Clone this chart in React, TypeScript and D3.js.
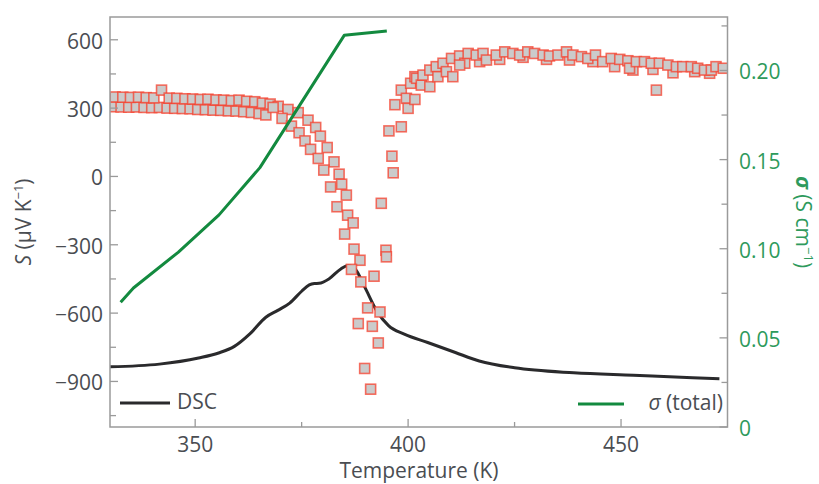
import React from "react";
import * as d3 from "d3";

// ---------- data ----------
const xTicksMajor = [350, 400, 450];
const xTicksMinor = [375, 425];
const sTicksMajor = [-900, -600, -300, 0, 300, 600];
const sTicksMinor = [-1050, -750, -450, -150, 150, 450];
const sigTicksMajor = [0, 0.05, 0.1, 0.15, 0.2];
const sigTicksMinor = [0.025, 0.075, 0.125, 0.175, 0.225];

// conductivity sigma (total), S cm^-1
const sigmaT = [332.5, 335.5, 346, 355.6, 365.2, 385, 395];
const sigmaV = [0.070, 0.078, 0.098, 0.119, 0.1455, 0.2197, 0.2222];

// DSC trace (arbitrary units, plotted on S axis)
const dscT = [330, 341.6, 350.8, 355.5, 359.2, 362.9, 366.6, 369.4, 372.2, 375.0, 376.8, 378.0, 379.1, 381.4, 384.2, 385.9, 387.5, 389.8, 392.6, 395.4, 399.1, 404.6, 411.1, 416.7, 425.0, 438.9, 452.9, 466.8, 473.1];
const dscV = [-836, -824, -797, -775, -746, -690, -618, -588, -556, -504, -476, -470, -469, -450, -406, -391, -405, -485, -589, -655, -692, -729, -773, -810, -840, -862, -873, -884, -888];

// Seebeck coefficient, low-T plateau (upper row)
const plateauUpper: [number, number][] = [
  [331.2, 349], [333.0, 348], [334.8, 347], [336.7, 348], [338.5, 346], [340.3, 345], [342.1, 379],
  [343.9, 344], [345.7, 343], [347.6, 341], [349.4, 340], [351.2, 338], [353.0, 339], [354.9, 336],
  [356.7, 335], [358.5, 333], [360.3, 335], [362.1, 330], [364.0, 328], [365.8, 322], [367.6, 318], [369.5, 308],
];
// low-T plateau (lower row)
const plateauLower: [number, number][] = [
  [330.8, 306], [332.6, 305], [334.4, 304], [336.2, 305], [338.0, 303], [339.8, 302], [341.6, 303],
  [343.4, 300], [345.2, 299], [347.0, 298], [348.8, 297], [350.6, 294], [352.4, 293], [354.2, 291],
  [356.0, 290], [357.8, 288], [359.6, 287], [361.4, 284], [363.2, 281], [365.0, 276], [366.6, 270],
];
// transition through the phase change
const transition: [number, number][] = [
  [371.8, 294], [374.2, 280], [376.5, 247], [378.3, 215], [379.4, 177], [381.0, 127], [382.6, 64],
  [383.8, 10], [384.4, -34], [385.5, -82], [385.8, -170], [387.1, -204], [387.3, -319], [388.7, -368],
  [388.9, -463], [390.5, -577], [391.6, -658], [393.0, -731], [392.0, -438], [393.4, -595],
  [368.3, 303], [370.4, 255], [372.6, 221], [374.4, 192], [375.8, 156], [377.1, 119], [378.9, 79],
  [380.2, 28], [381.8, -46], [383.3, -133], [385.1, -253], [386.7, -408], [388.3, -646],
  [389.8, -843], [391.2, -934],
  [393.7, -118], [394.8, -324], [394.9, -353], [395.5, 200], [396.2, 89], [396.5, 16], [396.9, 315],
  [398.4, 218], [398.4, 379], [399.6, 343], [400.0, 299], [400.6, 409], [401.6, 438], [401.6, 338],
  [402.0, 431], [403.1, 401], [403.5, 445], [405.1, 467], [405.1, 394], [406.6, 482], [407.0, 438],
  [408.2, 497], [409.0, 460], [410.5, 438], [410.2, 518], [412.1, 529], [413.3, 497], [414.1, 540],
];
// high-T plateau (upper row)
const highUpper: [number, number][] = [
  [416.0, 533], [417.6, 540], [418.4, 511], [420.7, 533], [422.7, 547], [424.6, 540], [426.2, 533],
  [428.1, 547], [429.7, 540], [431.7, 533], [433.2, 529], [435.2, 533], [437.2, 547], [438.7, 533],
  [440.7, 526], [442.2, 518], [444.0, 533], [445.7, 504], [447.7, 518], [449.7, 514], [451.6, 508],
  [452.0, 475], [453.6, 504], [455.5, 504], [457.1, 497], [458.3, 379], [459.0, 497], [461.0, 489],
  [463.0, 482], [464.5, 482], [466.5, 482], [468.0, 475], [469.6, 467], [471.2, 467], [472.3, 482], [474.0, 475],
];
// high-T plateau (lower row)
const highLower: [number, number][] = [
  [412.1, 489], [416.8, 504], [421.5, 514], [427.0, 523], [432.5, 514], [437.9, 511], [443.4, 504],
  [448.5, 482], [452.8, 467], [457.5, 470], [462.2, 455], [467.3, 460], [470.8, 453],
];

// ---------- layout ----------
const W = 819, H = 484;
const L = 110, R = 727.5, T = 17, B = 427;
const FONT = "'Open Sans', 'Noto Sans', sans-serif";
const TXT = "#4a4d52";
const GREEN = "#2e9a5c";
const LINEGREEN = "#138a3f";
const FRAME = "#9a9a9a";

export default function App() {
  const x = d3.scaleLinear().domain([330, 475]).range([L, R]);
  const yS = d3.scaleLinear().domain([-1100, 700]).range([B, T]);
  const yG = d3.scaleLinear().domain([0, 0.23]).range([B, T]);

  const dscLine = d3.line<number>()
    .x((_, i) => x(dscT[i]))
    .y((d) => yS(d))
    .curve(d3.curveMonotoneX);
  const sigLine = d3.line<number>()
    .x((_, i) => x(sigmaT[i]))
    .y((d) => yG(d));

  const pts = [...plateauLower, ...plateauUpper, ...transition, ...highLower, ...highUpper];
  const sq = 10;
  const minus = (v: number) => (v < 0 ? "\u2212" + Math.abs(v) : String(v));

  return (
    <svg width={W} height={H} style={{ position: "absolute", left: 0, top: 0, background: "#fff" }}
      fontFamily={FONT}>
      <defs>
        <clipPath id="plot"><rect x={L} y={T} width={R - L} height={B - T} /></clipPath>
      </defs>
      <g clipPath="url(#plot)">
        <path d={dscLine(dscV) || ""} fill="none" stroke="#2a2a2c" strokeWidth={3} strokeLinejoin="round" />
        {pts.map(([t, s], i) => (
          <rect key={i} x={x(t) - sq / 2} y={yS(s) - sq / 2} width={sq} height={sq}
            fill="#cbcbcb" stroke="#f5402e" strokeOpacity={0.75} strokeWidth={1.6} />
        ))}
        <path d={sigLine(sigmaV) || ""} fill="none" stroke={LINEGREEN} strokeWidth={3} strokeLinejoin="round" />
      </g>
      {/* frame */}
      <rect x={L} y={T} width={R - L} height={B - T} fill="none" stroke={FRAME} strokeWidth={1.5} />
      {/* x ticks */}
      {xTicksMajor.map((t) => (
        <g key={"xm" + t}>
          <line x1={x(t)} x2={x(t)} y1={B} y2={B - 8} stroke={FRAME} strokeWidth={1.3} />
          <text x={x(t)} y={B + 17} textAnchor="middle" dominantBaseline="central" fontSize={21} fill={TXT}>{t}</text>
        </g>
      ))}
      {xTicksMinor.map((t) => (
        <line key={"xn" + t} x1={x(t)} x2={x(t)} y1={B} y2={B - 5} stroke={FRAME} strokeWidth={1.3} />
      ))}
      {/* left ticks */}
      {sTicksMajor.map((t) => (
        <g key={"sm" + t}>
          <line x1={L} x2={L + 8} y1={yS(t)} y2={yS(t)} stroke={FRAME} strokeWidth={1.3} />
          <text x={103} y={yS(t) + 1} textAnchor="end" dominantBaseline="central" fontSize={21} fill={TXT}>{minus(t)}</text>
        </g>
      ))}
      {sTicksMinor.map((t) => (
        <line key={"sn" + t} x1={L} x2={L + 6} y1={yS(t)} y2={yS(t)} stroke={FRAME} strokeWidth={1.3} />
      ))}
      {/* right ticks */}
      {sigTicksMajor.map((t) => (
        <g key={"gm" + t}>
          <line x1={R} x2={R - 8} y1={yG(t)} y2={yG(t)} stroke={FRAME} strokeWidth={1.3} />
          <text x={739} y={yG(t) + 1} textAnchor="start" dominantBaseline="central" fontSize={21} fill={GREEN}>
            {t === 0 ? "0" : t.toFixed(2)}
          </text>
        </g>
      ))}
      {sigTicksMinor.map((t) => (
        <line key={"gn" + t} x1={R} x2={R - 6} y1={yG(t)} y2={yG(t)} stroke={FRAME} strokeWidth={1.3} />
      ))}
      {/* axis titles */}
      <text x={419} y={478} textAnchor="middle" fontSize={21} fill={TXT}>Temperature (K)</text>
      <text transform={`translate(31, ${(T + B) / 2}) rotate(-90)`} textAnchor="middle" fontSize={21} fill={TXT}>
        <tspan fontStyle="italic">S</tspan> (μV K<tspan dy={-8} fontSize={13}>−1</tspan><tspan dy={8}>)</tspan>
      </text>
      <text transform={`translate(796, ${(T + B) / 2}) rotate(90)`} textAnchor="middle" fontSize={21} fill={GREEN}>
        <tspan fontStyle="italic" fontWeight="bold">σ</tspan> (S cm<tspan dy={-8} fontSize={13}>−1</tspan><tspan dy={8}>)</tspan>
      </text>
      {/* legend */}
      <line x1={120} x2={170} y1={403} y2={403} stroke="#2a2a2c" strokeWidth={3} />
      <text x={177} y={409} fontSize={21} fill={TXT}>DSC</text>
      <line x1={578} x2={624} y1={404} y2={404} stroke={LINEGREEN} strokeWidth={3} />
      <text x={723} y={410} textAnchor="end" fontSize={21} fill={TXT}>
        <tspan fontStyle="italic">σ</tspan> (total)
      </text>
    </svg>
  );
}
